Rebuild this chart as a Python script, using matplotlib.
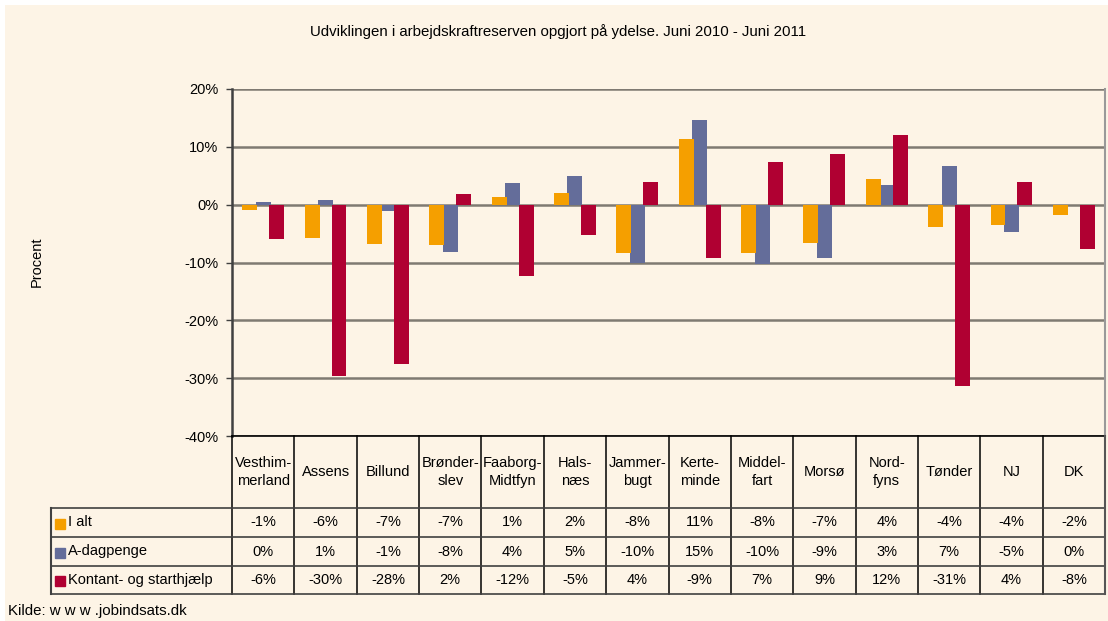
import matplotlib.pyplot as plt
from matplotlib.patches import Rectangle

# kommuner / kategorier (tabellens kolonner)
categories = ["Vesthim-\nmerland", "Assens", "Billund", "Brønder-\nslev", "Faaborg-\nMidtfyn",
              "Hals-\nnæs", "Jammer-\nbugt", "Kerte-\nminde", "Middel-\nfart", "Morsø",
              "Nord-\nfyns", "Tønder", "NJ", "DK"]

# udvikling i procent, juni 2010 - juni 2011 (aflæst)
i_alt = [-0.9, -5.8, -6.8, -7.0, 1.3, 2.0, -8.4, 11.3, -8.4, -6.6, 4.4, -3.9, -3.6, -1.8]
a_dagpenge = [0.4, 0.8, -1.1, -8.2, 3.7, 4.9, -10.1, 14.6, -10.2, -9.3, 3.4, 6.6, -4.7, 0.0]
kontant = [-5.9, -29.6, -27.6, 1.9, -12.4, -5.2, 3.9, -9.3, 7.3, 8.7, 12.0, -31.4, 3.9, -7.6]

series_names = ["I alt", "A-dagpenge", "Kontant- og starthjælp"]
yticks = [-40, -30, -20, -10, 0, 10, 20]

bg = "#FDF4E6"
col_orange = "#F59F00"
col_blue = "#646D9A"
col_red = "#B00032"

plt.rcParams["font.family"] = ["Liberation Sans", "DejaVu Sans"]
plt.rcParams["font.size"] = 10

W, H = 1108, 621
fig = plt.figure(figsize=(W / 100, H / 100), dpi=100)
fig.patch.set_facecolor("white")
fig.patches.append(Rectangle((5 / W, 0), 1 - 5 / W, 1 - 5 / H, transform=fig.transFigure,
                             facecolor=bg, edgecolor="none", zorder=-10))

# plot area
ax = fig.add_axes([232 / W, (H - 436) / H, 873 / W, 347 / H])
ax.set_facecolor(bg)
n = len(categories)
xs = list(range(n))
w = 0.24
off = 0.216
ax.bar([x for x in xs], a_dagpenge, width=w, color=col_blue, zorder=3)
ax.bar([x - off for x in xs], i_alt, width=w, color=col_orange, zorder=4)
ax.bar([x + off for x in xs], kontant, width=w, color=col_red, zorder=5)
ax.set_xlim(-0.5, n - 0.5)
ax.set_ylim(-40, 20)
ax.set_yticks(yticks)
ax.set_yticklabels([f"{t}%" for t in yticks], fontsize=10.5)
ax.set_xticks([])
ax.tick_params(axis="y", length=4, width=1, color="#404040", pad=6)
for t in yticks:
    ax.axhline(t, color="#7F7A72", lw=1.8, zorder=2)
for s in ["top", "bottom"]:
    ax.spines[s].set_visible(False)
ax.spines["left"].set_color("#404040")
ax.spines["left"].set_linewidth(1.8)
ax.spines["right"].set_color("#999999")
ax.spines["right"].set_linewidth(1.5)

# data table below the plot
tab = fig.add_axes([232 / W, (H - 594) / H, 873 / W, 158 / H])
tab.set_xlim(-0.5, n - 0.5)
tab.set_ylim(158, 0)
tab.axis("off")
rows = [72, 101, 130, 158]
left = -0.5 - 181 / (873 / n)
tab.plot([-0.5, n - 0.5], [0, 0], color="black", lw=1.2, clip_on=False)
for k in range(n + 1):
    tab.plot([k - 0.5, k - 0.5], [0, 158], color="black", lw=1.1, clip_on=False)
for r in rows:
    tab.plot([left, n - 0.5], [r, r], color="#404040", lw=1.2, clip_on=False)
tab.plot([left, left], [72, 158], color="#404040", lw=1.5, clip_on=False)
tab.plot([n - 0.5, n - 0.5], [0, 158], color="#555555", lw=1.5, clip_on=False)

for i, c in enumerate(categories):
    tab.text(i, 36, c, ha="center", va="center", fontsize=10.5, linespacing=1.4)

series = [i_alt, a_dagpenge, kontant]
colors = [col_orange, col_blue, col_red]
for j, (name, vals, col) in enumerate(zip(series_names, series, colors)):
    yc = (rows[j] + rows[j + 1]) / 2
    tab.plot([left + 0.15], [yc + 1], marker="s", ms=7, color=col, clip_on=False, ls="none")
    tab.text(left + 0.27, yc, name, ha="left", va="center", fontsize=10.5)
    for i, v in enumerate(vals):
        tab.text(i, yc, f"{round(v):d}%", ha="center", va="center", fontsize=10.5)

fig.text(558 / W, 1 - 32 / H, "Udviklingen i arbejdskraftreserven opgjort på ydelse. Juni 2010 - Juni 2011",
         ha="center", va="center", fontsize=10.8)
fig.text(37 / W, 1 - 262 / H, "Procent", ha="center", va="center", rotation=90, fontsize=10.5)
fig.text(8 / W, 1 - 611 / H, "Kilde: w w w .jobindsats.dk", ha="left", va="center", fontsize=10.8)

fig.savefig("out.png", dpi=100, facecolor=fig.get_facecolor())
